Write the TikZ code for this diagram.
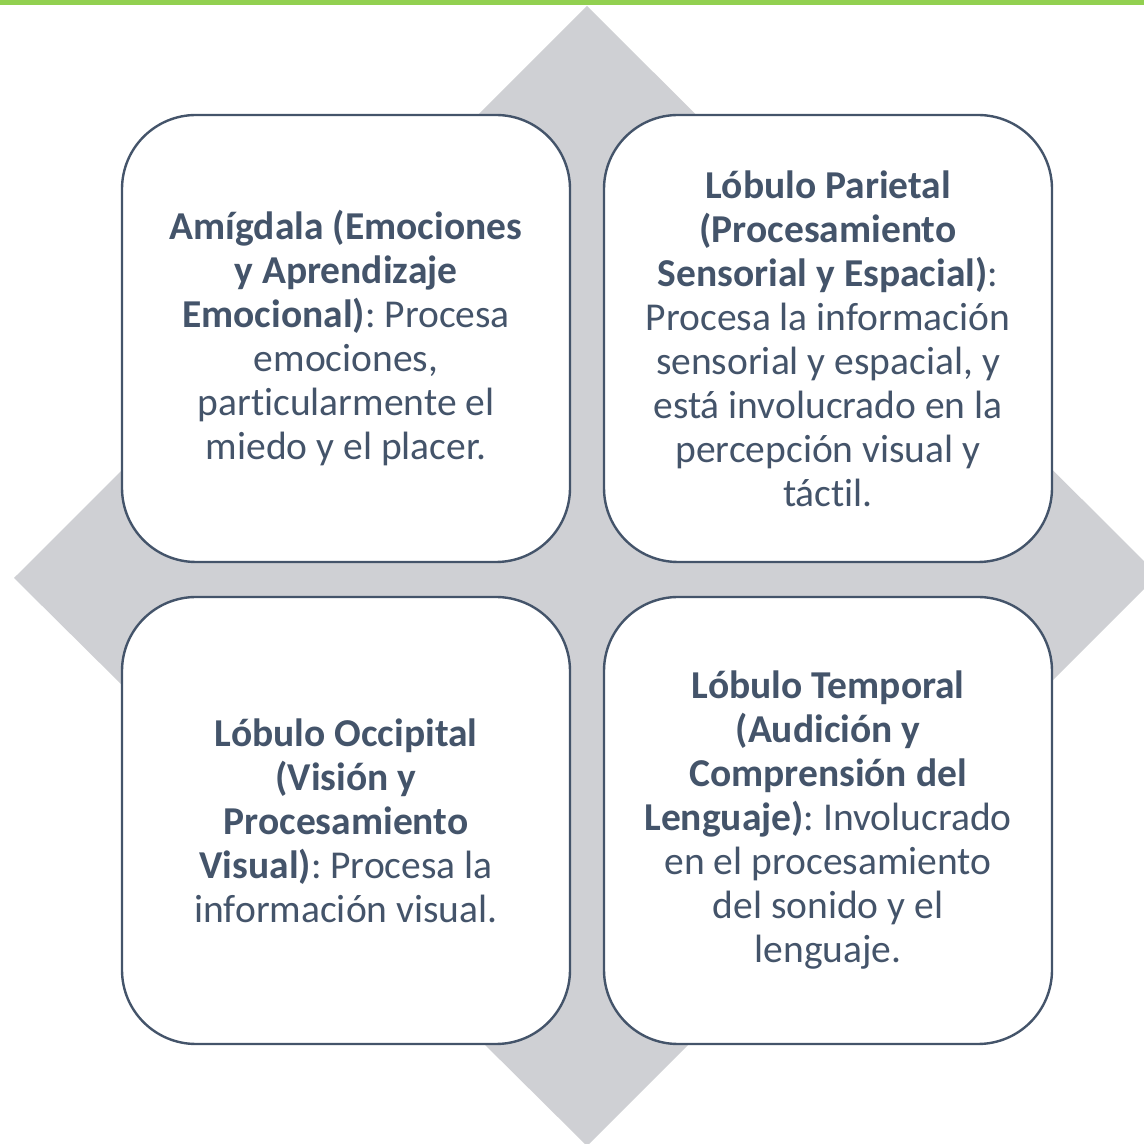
\documentclass[tikz,border=0pt]{standalone}
\usepackage{fontspec}
\setmainfont{Carlito}[Ligatures=NoCommon]
\usetikzlibrary{positioning, backgrounds}
\definecolor{slate}{RGB}{68,84,106}
\definecolor{diamondgrey}{RGB}{207,208,212}
\definecolor{topgreen}{RGB}{146,208,80}
\tikzstyle{lobe} = [rectangle, rounded corners=74pt, minimum width=448pt, minimum height=447pt, inner sep=0pt, outer sep=0pt, align=center, draw=slate, line width=2.4pt, fill=white, text=slate, font=\fontsize{39.5}{44}\selectfont]

\begin{document}
\frenchspacing
\begin{tikzpicture}[x=1pt, y=1pt]
			\useasboundingbox (0,0) rectangle (1144,1144);
			\fill[topgreen] (0,1139) rectangle (1144,1144);
			\fill[diamondgrey] (587,1138) -- (1158,569) -- (587,-2) -- (14,566) -- cycle;

			\node(amig)[lobe] at (346,805.5) {\textbf{Amígdala (Emociones}\\ \textbf{y Aprendizaje}\\ \textbf{Emocional)}: Procesa\\ emociones,\\ particularmente el\\ miedo y el placer.};
			\node(parietal)[lobe, right=34pt of amig] {\textbf{Lóbulo Parietal}\\ \textbf{(Procesamiento}\\ \textbf{Sensorial y Espacial)}:\\ Procesa la información\\ sensorial y espacial, y\\ está involucrado en la\\ percepción visual y\\ táctil.};
			\node(occipital)[lobe, below=35pt of amig] {\textbf{Lóbulo Occipital}\\ \textbf{(Visión y}\\ \textbf{Procesamiento}\\ \textbf{Visual)}: Procesa la\\ información visual.};
			\node(temporal)[lobe, right=34pt of occipital] {\textbf{Lóbulo Temporal}\\ \textbf{(Audición y}\\ \textbf{Comprensión del}\\ \textbf{Lenguaje)}: Involucrado\\ en el procesamiento\\ del sonido y el\\ lenguaje.};
		\end{tikzpicture}
\end{document}
